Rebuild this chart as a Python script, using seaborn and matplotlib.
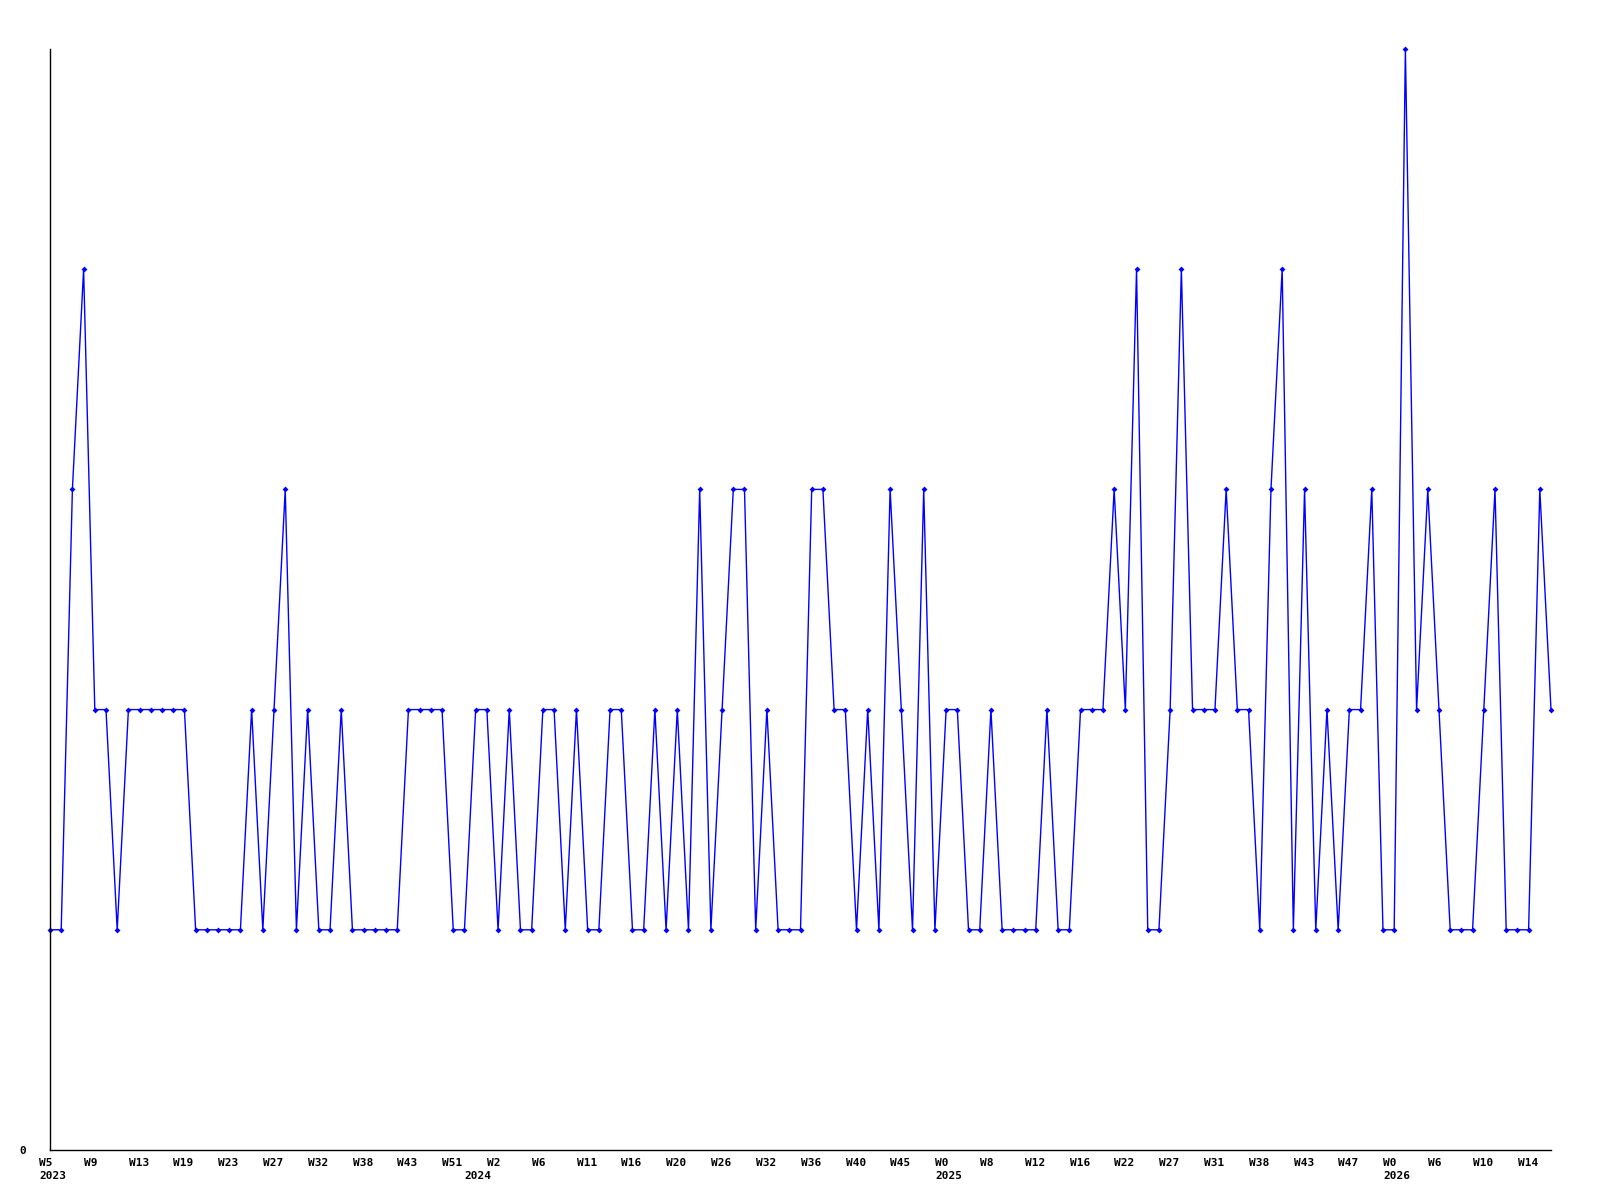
import matplotlib
matplotlib.use("Agg")
import matplotlib.pyplot as plt
import matplotlib.transforms as mtransforms
import seaborn as sns
import numpy as np
import pandas as pd

# weekly counts (135 consecutive data points)
values = [1, 1, 3, 4, 2, 2, 1, 2, 2, 2, 2, 2, 2, 1, 1, 1, 1, 1, 2, 1,
          2, 3, 1, 2, 1, 1, 2, 1, 1, 1, 1, 1, 2, 2, 2, 2, 1, 1, 2, 2,
          1, 2, 1, 1, 2, 2, 1, 2, 1, 1, 2, 2, 1, 1, 2, 1, 2, 1, 3, 1,
          2, 3, 3, 1, 2, 1, 1, 1, 3, 3, 2, 2, 1, 2, 1, 3, 2, 1, 3, 1,
          2, 2, 1, 1, 2, 1, 1, 1, 1, 2, 1, 1, 2, 2, 2, 3, 2, 4, 1, 1,
          2, 4, 2, 2, 2, 3, 2, 2, 1, 3, 4, 1, 3, 1, 2, 1, 2, 2, 3, 1,
          1, 5, 2, 3, 2, 1, 1, 1, 2, 3, 1, 1, 1, 3, 2]

# tick labels, one every 4 data points
tick_labels = ["W5", "W9", "W13", "W19", "W23", "W27", "W32", "W38", "W43", "W51",
               "W2", "W6", "W11", "W16", "W20", "W26", "W32", "W36", "W40", "W45",
               "W0", "W8", "W12", "W16", "W22", "W27", "W31", "W38", "W43", "W47",
               "W0", "W6", "W10", "W14"]
tick_step = 4

# year labels and the data point index where each year starts
years = ["2023", "2024", "2025", "2026"]
year_start_idx = [0, 38, 80, 120]

df = pd.DataFrame({"idx": np.arange(len(values)), "value": values})

sns.set_theme(style="white")
plt.rcParams["font.family"] = ["DejaVu Sans Mono", "DejaVu Sans"]
plt.rcParams["text.color"] = "black"
plt.rcParams["xtick.color"] = "black"
plt.rcParams["ytick.color"] = "black"

fig = plt.figure(figsize=(16, 12), dpi=100)
ax = fig.add_axes([50 / 1600, 50 / 1200, 1501 / 1600, 1101 / 1200])

sns.lineplot(data=df, x="idx", y="value", ax=ax, color="#0000FF",
             linewidth=1.0, marker="D", markersize=3.0, markeredgewidth=0,
             markerfacecolor="#0000FF", clip_on=False)

ax.set_xlim(0, len(values) - 1)
ax.set_ylim(0, 5)

for s in ["top", "right"]:
    ax.spines[s].set_visible(False)
for s in ["left", "bottom"]:
    ax.spines[s].set_color("black")
    ax.spines[s].set_linewidth(1.0)

ax.set_xlabel("")
ax.set_ylabel("")

ticks = np.arange(0, len(values), tick_step)[:len(tick_labels)]
ax.set_xticks(ticks)
ax.set_xticklabels(tick_labels, fontsize=8, fontweight="bold", ha="left",
                   color="black")
ax.tick_params(axis="x", length=0, pad=6)
offset = mtransforms.ScaledTranslation(-11 / 100, 0, fig.dpi_scale_trans)
for lbl in ax.get_xticklabels():
    lbl.set_transform(lbl.get_transform() + offset)

ax.set_yticks([0])
ax.set_yticklabels(["0"], fontsize=8, fontweight="bold", color="black")
ax.tick_params(axis="y", length=0, pad=17)

trans = mtransforms.blended_transform_factory(ax.transData, ax.transAxes) + offset
for yr, i in zip(years, year_start_idx):
    ax.text(i, -0.019, yr, transform=trans, ha="left", va="top",
            fontsize=8, fontweight="bold", color="black")

fig.savefig("out.png", dpi=100, facecolor="white")
